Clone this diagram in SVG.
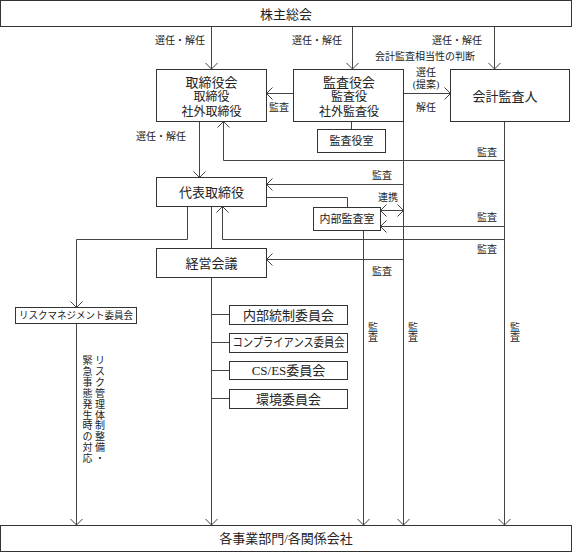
<svg xmlns="http://www.w3.org/2000/svg" width="573" height="553" viewBox="0 0 573 553">
<style>
text{font-family:"Liberation Serif","Noto Sans CJK JP",serif;fill:#222;text-anchor:middle;dominant-baseline:central}
.box{fill:#fff;stroke:#333;stroke-width:1}
.ln{fill:none;stroke:#444;stroke-width:1}
.lb{font-size:10px}
</style>
<defs>
<marker id="ah" markerUnits="userSpaceOnUse" viewBox="-8 -8 10 16" refX="0" refY="0" markerWidth="10" markerHeight="16" orient="auto">
<path d="M-6,-6 L0,0 L-6,6" fill="none" stroke="#444" stroke-width="1"/>
</marker>
<marker id="ahs" markerUnits="userSpaceOnUse" viewBox="-8 -8 10 16" refX="0" refY="0" markerWidth="10" markerHeight="16" orient="auto-start-reverse">
<path d="M-6,-6 L0,0 L-6,6" fill="none" stroke="#444" stroke-width="1"/>
</marker>
</defs>
<rect width="573" height="553" fill="#fff"/>
<g id="connectors">
<path class="ln" d="M211.5,27 V69" marker-end="url(#ah)"/>
<path class="ln" d="M352.5,27 V69" marker-end="url(#ah)"/>
<path class="ln" d="M494.5,27 V69" marker-end="url(#ah)"/>
<path class="ln" d="M293.5,93.5 H266.5" marker-end="url(#ah)"/>
<path class="ln" d="M403.5,93.5 H450.5" marker-end="url(#ah)"/>
<path class="ln" d="M351.5,121.5 V129.5"/>
<path class="ln" d="M199.5,121.5 V177.5" marker-end="url(#ah)"/>
<path class="ln" d="M504.5,121.5 V525" marker-end="url(#ah)"/>
<path class="ln" d="M403.5,121.5 V525" marker-end="url(#ah)"/>
<path class="ln" d="M504.5,160.5 H223.5 V121.5" marker-end="url(#ah)"/>
<path class="ln" d="M403.5,184.5 H266.5" marker-end="url(#ah)"/>
<path class="ln" d="M266.5,197.5 H347.5 V207.5"/>
<path class="ln" d="M380.5,210.5 H403.5" marker-start="url(#ahs)" marker-end="url(#ah)"/>
<path class="ln" d="M504.5,226.5 H380.5" marker-end="url(#ah)"/>
<path class="ln" d="M504.5,239.5 H222.5 V206.5" marker-end="url(#ah)"/>
<path class="ln" d="M187.5,206.5 V239.5 H76.5 V307.5" marker-end="url(#ah)"/>
<path class="ln" d="M211.5,206.5 V248.5"/>
<path class="ln" d="M403.5,259.5 H266.5" marker-end="url(#ah)"/>
<path class="ln" d="M211.5,277.5 V525" marker-end="url(#ah)"/>
<path class="ln" d="M363.5,230.5 V525" marker-end="url(#ah)"/>
<path class="ln" d="M76.5,323.5 V525" marker-end="url(#ah)"/>
<path class="ln" d="M211.5,314.5 H229.5 M211.5,342.5 H229.5 M211.5,370.5 H229.5 M211.5,398.5 H229.5"/>
</g>
<g id="labels">
<text class="lb" x="180" y="40">選任・解任</text>
<text class="lb" x="317" y="40">選任・解任</text>
<text class="lb" x="457" y="40">選任・解任</text>
<text class="lb" x="425" y="56">会計監査相当性の判断</text>
<text class="lb" x="279" y="107">監査</text>
<text class="lb" x="426" y="72">選任</text>
<text class="lb" x="426" y="84">(提案)</text>
<text class="lb" x="426" y="107">解任</text>
<text class="lb" x="161" y="136">選任・解任</text>
<text class="lb" x="487" y="152">監査</text>
<text class="lb" x="382" y="175">監査</text>
<text class="lb" x="388" y="197">連携</text>
<text class="lb" x="487" y="217">監査</text>
<text class="lb" x="487" y="249">監査</text>
<text class="lb" x="382" y="271">監査</text>
<text class="lb"><tspan x="373" y="327">監</tspan><tspan x="373" y="337">査</tspan></text>
<text class="lb"><tspan x="413" y="327">監</tspan><tspan x="413" y="337">査</tspan></text>
<text class="lb"><tspan x="515" y="327">監</tspan><tspan x="515" y="337">査</tspan></text>
<text class="lb"><tspan x="100" y="360">リ</tspan><tspan x="100" y="370.9">ス</tspan><tspan x="100" y="381.8">ク</tspan><tspan x="100" y="392.7">管</tspan><tspan x="100" y="403.6">理</tspan><tspan x="100" y="414.5">体</tspan><tspan x="100" y="425.4">制</tspan><tspan x="100" y="436.3">整</tspan><tspan x="100" y="447.2">備</tspan><tspan x="100" y="458.1">・</tspan></text>
<text class="lb"><tspan x="87.5" y="360">緊</tspan><tspan x="87.5" y="370.9">急</tspan><tspan x="87.5" y="381.8">事</tspan><tspan x="87.5" y="392.7">態</tspan><tspan x="87.5" y="403.6">発</tspan><tspan x="87.5" y="414.5">生</tspan><tspan x="87.5" y="425.4">時</tspan><tspan x="87.5" y="436.3">の</tspan><tspan x="87.5" y="447.2">対</tspan><tspan x="87.5" y="458.1">応</tspan></text>
</g>
<g id="shareholders">
<rect class="box" x="0.5" y="0.5" width="571" height="26"/>
<text x="286" y="14" font-size="13">株主総会</text>
</g>
<g id="board">
<rect class="box" x="156.5" y="69.5" width="110" height="52"/>
<text x="211.5" y="82" font-size="13">取締役会</text>
<text x="211.5" y="97" font-size="12">取締役</text>
<text x="211.5" y="111.5" font-size="12">社外取締役</text>
</g>
<g id="auditors">
<rect class="box" x="293.5" y="69.5" width="110" height="52"/>
<text x="349" y="82" font-size="13">監査役会</text>
<text x="349" y="97" font-size="12">監査役</text>
<text x="349" y="111.5" font-size="12">社外監査役</text>
</g>
<g id="accounting-auditor">
<rect class="box" x="450.5" y="69.5" width="119" height="52"/>
<text x="505" y="96" font-size="13">会計監査人</text>
</g>
<g id="auditor-office">
<rect class="box" x="317.5" y="129.5" width="68" height="23"/>
<text x="351.5" y="141" font-size="11">監査役室</text>
</g>
<g id="president">
<rect class="box" x="156.5" y="177.5" width="110" height="29"/>
<text x="211.5" y="192" font-size="13">代表取締役</text>
</g>
<g id="internal-audit">
<rect class="box" x="313.5" y="207.5" width="67" height="23"/>
<text x="347" y="219" font-size="11">内部監査室</text>
</g>
<g id="management-meeting">
<rect class="box" x="156.5" y="248.5" width="110" height="29"/>
<text x="211.5" y="263.5" font-size="13">経営会議</text>
</g>
<g id="risk-committee">
<rect class="box" x="15.5" y="307.5" width="121" height="16"/>
<text x="76" y="315.5" font-size="10" textLength="114" lengthAdjust="spacingAndGlyphs">リスクマネジメント委員会</text>
</g>
<g id="internal-control">
<rect class="box" x="229.5" y="305.5" width="118" height="19"/>
<text x="288.5" y="315" font-size="13">内部統制委員会</text>
</g>
<g id="compliance">
<rect class="box" x="229.5" y="333.5" width="118" height="19"/>
<text x="288.5" y="343" font-size="12" textLength="112" lengthAdjust="spacingAndGlyphs">コンプライアンス委員会</text>
</g>
<g id="cses">
<rect class="box" x="229.5" y="361.5" width="118" height="18"/>
<text x="288.5" y="370.5" font-size="13">CS/ES委員会</text>
</g>
<g id="environment">
<rect class="box" x="229.5" y="389.5" width="118" height="19"/>
<text x="288.5" y="399" font-size="13">環境委員会</text>
</g>
<g id="divisions">
<rect class="box" x="0.5" y="525.5" width="571" height="26"/>
<text x="286" y="538.5" font-size="13">各事業部門/各関係会社</text>
</g>
</svg>
